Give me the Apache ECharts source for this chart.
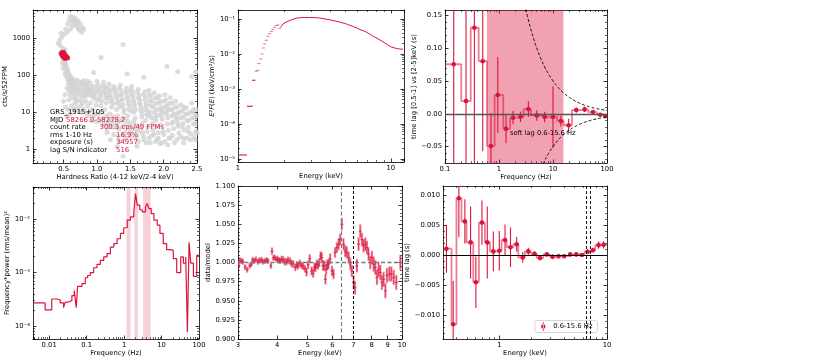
<!DOCTYPE html>
<html><head><meta charset="utf-8">
<script src="https://cdn.jsdelivr.net/npm/echarts@6/dist/echarts.min.js"></script>
<style>html,body{margin:0;padding:0;background:#fff}#c{width:830px;height:361px}</style>
</head><body><div id="c"></div>
<script>
// ---------------- DATA ----------------
// Panel 1: hardness-intensity diagram [hardness ratio, cts/s/52FPM]
const hidGrey = [
 [0.6,4000],[0.58,3200],[0.62,3000],[0.65,2700],[0.68,2400],[0.7,2100],[0.72,1900],[0.66,3300],[0.63,2200],[0.56,2500],[0.74,1700],[0.6,1800],[0.55,1500],[0.5,1300],[0.47,1100],[0.44,900],[0.42,750],[0.45,650],[0.48,550],[0.5,450],[0.52,500],[0.46,1400],[0.53,1800],
 [0.75,2500],[0.78,2000],[0.8,1800],[0.7,2800],[0.77,1500],[0.72,3000],[0.68,3500],[0.64,3800],
 [0.5,260],[0.52,230],[0.53,200],[0.54,175],[0.55,150],[0.56,130],[0.57,115],[0.58,105],[0.6,95],[0.62,85],[0.64,78],[0.66,70],[0.51,190],[0.53,140],[0.55,120],[0.58,85],[0.48,220],[0.49,160],[0.52,110],
 [0.52,30],[0.5,20],[0.53,14],[0.55,8],
 [0.54,95],[0.56,80],[0.57,60],[0.55,45],[0.58,38],[0.6,70],[0.62,55],[0.6,30],[0.63,42],[0.65,60],[0.66,35],[0.64,25],[0.68,48],[0.7,40],[0.69,28],[0.67,18],[0.62,15],[0.58,22],[0.56,12],[0.6,9],[0.65,12],[0.7,20],[0.72,55],[0.74,45],[0.73,30],[0.75,22],[0.76,15],[0.72,11],
 [0.66,50],[0.68,65],[0.7,75],[0.72,40],[0.74,62],[0.76,35],[0.78,28],[0.8,72],[0.82,62],[0.84,46],[0.86,38],[0.7,14],[0.75,10],[0.8,12],[0.85,9],[0.9,11],[0.78,18],[0.68,22],[0.64,35],[0.62,45],[0.6,52],[0.58,65],[0.56,100],
 [0.78,60],[0.8,50],[0.82,40],[0.84,55],[0.85,32],[0.8,26],[0.83,20],[0.86,15],[0.88,45],[0.9,38],[0.92,28],[0.9,18],[0.94,12],[0.96,50],[0.98,35],[0.95,24],[0.99,16],[0.97,9],[0.88,8],[0.93,6],[1.0,70],[0.86,70],[0.9,62],
 [0.76,65],[0.79,42],[0.81,33],[0.83,28],[0.87,52],[0.89,30],[0.91,48],[0.93,40],[0.95,33],[0.97,27],[0.99,22],[1.01,45],[1.03,35],[1.05,27],[1.07,20],[1.09,52],[1.11,40],[1.13,31],[1.15,24],[1.16,45],[1.18,36],[1.2,28],[1.22,22],[1.24,17],
 [1.02,55],[1.04,42],[1.05,30],[1.03,22],[1.06,15],[1.08,10],[1.1,65],[1.12,48],[1.1,35],[1.13,25],[1.14,18],[1.12,12],[1.15,8],[1.17,5],[1.18,58],[1.2,40],[1.19,28],[1.21,20],[1.22,14],[1.2,9],[1.23,6],[1.24,4],[1.25,50],[1.05,6],[1.09,4.5],[1.15,3.5],
 [1.26,42],[1.28,33],[1.3,25],[1.32,19],[1.34,14],[1.33,45],[1.35,30],[1.37,22],[1.39,16],[1.41,12],[1.43,36],[1.45,26],[1.47,20],[1.49,15],[1.51,11],
 [1.27,35],[1.28,26],[1.3,18],[1.29,12],[1.31,8],[1.32,5.5],[1.33,3.5],[1.35,55],[1.36,40],[1.37,30],[1.38,22],[1.36,15],[1.4,10],[1.39,7],[1.41,4.5],[1.42,2.8],[1.44,45],[1.45,33],[1.46,24],[1.47,17],[1.48,12],[1.46,8],[1.49,5],[1.5,3],[1.43,2],[1.39,0.64],[1.3,1.2],[1.34,1.6],
 [1.5,40],[1.52,30],[1.54,22],[1.56,17],[1.58,12],[1.6,35],[1.62,25],[1.64,18],[1.66,13],[1.68,9],[1.7,30],[1.72,22],[1.74,15],[1.76,11],[1.78,8],
 [1.52,50],[1.53,38],[1.54,28],[1.55,20],[1.56,14],[1.55,10],[1.57,7],[1.58,4.5],[1.6,3],[1.58,2],[1.62,42],[1.63,30],[1.64,22],[1.65,16],[1.66,11],[1.67,7.5],[1.68,5],[1.66,3.2],[1.7,2.2],[1.72,36],[1.73,26],[1.74,18],[1.72,12],[1.75,8.5],[1.73,6],[1.76,4],[1.74,1.5],[1.6,1.2],
 [1.8,28],[1.82,20],[1.84,14],[1.86,10],[1.88,7.5],[1.9,25],[1.92,18],[1.94,12],[1.96,8],[1.98,11],
 [1.78,40],[1.79,30],[1.8,21],[1.81,15],[1.8,10],[1.82,7],[1.83,5],[1.84,3.3],[1.82,2.3],[1.86,34],[1.87,25],[1.88,17],[1.89,12],[1.9,8.5],[1.88,6],[1.91,4],[1.92,2.8],[1.9,1.8],[1.94,28],[1.95,20],[1.96,14],[1.97,9.5],[1.98,6.5],[1.96,4.5],[1.99,3],[1.97,1.5],
 [2.0,20],[2.02,14],[2.04,9],[2.06,12],[2.08,17],[2.1,12],[2.12,5],[2.15,9],[2.17,14],[2.19,7.5],[2.21,5],[2.24,10],[2.26,7],[2.28,4],[2.3,14],[2.33,9],[2.35,6],[2.37,3],[2.4,10],[2.43,7],[2.45,12],[2.47,5],[2.49,8],
 [2.02,30],[2.03,22],[2.05,15],[2.04,10],[2.06,7],[2.05,4.8],[2.07,3.2],[2.08,2],[2.1,25],[2.12,18],[2.13,12],[2.12,8],[2.14,5.5],[2.15,3.6],[2.13,2.4],[2.18,20],[2.2,14],[2.21,9.5],[2.2,6.5],[2.22,4.2],[2.23,2.8],[2.26,16],[2.28,11],[2.3,7.5],[2.29,5],[2.31,3.3],[2.3,2],[2.34,13],[2.36,9],[2.38,6],[2.37,4],[2.4,2.6],[2.42,18],[2.44,10],[2.46,7],[2.45,4.8],[2.48,3],[2.47,1.8],[2.49,12],
 [0.95,8],[1.0,5.5],[1.02,9],[1.1,7],[1.12,5],[1.18,6.5],[1.2,4.5],[1.25,7.5],[1.27,5],[1.3,4],[1.35,6],[1.38,4],[1.4,2.5],[1.45,6],[1.48,3.8],[1.5,2.2],[1.55,5.5],[1.57,3.5],[1.6,2.3],[1.62,1.6],[1.65,4],[1.68,2.8],[1.7,1.8],[1.75,3],[1.78,2],[1.8,1.5],[1.85,2.5],[1.88,1.6],[1.92,2],[1.95,1.4],[2.0,2.5],[2.02,1.6],[2.06,1.3],[2.1,2],[2.16,1.5],[2.2,1.8],[2.25,2.2],[2.3,1.5],[2.35,2],[2.4,1.8],[2.45,2.2],[2.5,2.8],[1.25,2.5],[1.15,2.8],[1.2,1.8],[1.32,2.2],
 [1.06,306],[1.39,690],[2.05,175],[2.21,127],[2.48,127],[2.42,94],[1.45,110],[1.7,90],[0.95,120]
];
const hidRed = [[0.47,420],[0.48,380],[0.49,400],[0.5,360],[0.51,340],[0.52,320],[0.53,300],[0.5,310],[0.49,350],[0.51,390],[0.54,330],[0.55,310],[0.48,340],[0.52,290],[0.46,390],[0.5,430],[0.53,350],[0.56,300]];
const infoLabels = ['GRS_1915+105','MJD','count rate','rms 1-10 Hz','exposure (s)','lag S/N indicator'];
const infoValues = ['','58266.0-58278.2','300.3 cps/49 FPMs','16.9%','34957','516'];

// Panel 2: unfolded spectrum E^2 F(E)
const specBinLo = [1.0, 1.145, 1.235];
const specBinHi = [1.145, 1.25, 1.30];
const specBinVal = [1.3e-5, 3.2e-4, 1.77e-3];
const specE = [1.318,1.35,1.37,1.407,1.435,1.465,1.494,1.533,1.571,1.61,1.651,1.693,1.737,1.781,1.826,1.873,1.9,1.97,2.07,2.18,2.29,2.40,2.53,2.73,2.94,3.17,3.42,3.7,4.0,4.4,4.8,5.2,5.6,6.0,6.4,6.7,7.0,7.5,8.0,8.5,9.0,9.5,10.0,10.5,11.0,11.5,12.0];
const specVal = [3.2e-3,3.4e-3,5.3e-3,7.2e-3,1.0e-2,1.48e-2,1.93e-2,2.45e-2,3.2e-2,3.8e-2,4.4e-2,5.07e-2,5.8e-2,6.45e-2,6.76e-2,5.4e-2,5.8e-2,7.2e-2,8.2e-2,9.0e-2,9.8e-2,1.05e-1,1.08e-1,1.1e-1,1.1e-1,1.09e-1,1.06e-1,1.0e-1,9.4e-2,8.6e-2,7.8e-2,7.0e-2,6.2e-2,5.5e-2,4.8e-2,4.5e-2,4.1e-2,3.4e-2,2.9e-2,2.5e-2,2.15e-2,1.85e-2,1.6e-2,1.5e-2,1.42e-2,1.38e-2,1.37e-2];

// Panel 3: lag-frequency spectrum
const lfLo  = [0.1,0.2,0.3,0.42,0.6,0.83,1.2,1.6,2.15,2.86,3.9,5.4,8.3,11.9,15.7,22.5,32,45,65,87];
const lfHi  = [0.2,0.3,0.42,0.6,0.83,1.2,1.6,2.15,2.86,3.9,5.4,8.3,11.9,15.7,22.5,32,45,65,87,100];
const lfMid = [0.145,0.245,0.35,0.5,0.71,0.95,1.35,1.82,2.5,3.5,5,7,10,14,19.5,27,38.5,55,75,93];
const lfLag = [0.0754,0.0193,0.131,0.080,-0.049,0.0285,-0.023,-0.006,-0.0046,0.0071,-0.0025,-0.005,-0.005,-0.011,-0.0175,0.0056,0.0066,0.0026,-0.0015,-0.0035];
const lfErr = [0.3,0.3,0.3,0.137,0.05,0.058,0.022,0.01,0.008,0.012,0.008,0.008,0.047,0.008,0.01,0.004,0.004,0.002,0.002,0.002];
const softBand = [0.6, 15.6];
const limitUpF = [3.0,3.2,3.5,4,4.5,5,6,7,8,10,12,15,20,25,30,40,50,60,80,100];
const limitUpV = [0.1667,0.156,0.143,0.125,0.111,0.1,0.0833,0.0714,0.0625,0.05,0.0417,0.0333,0.025,0.02,0.0167,0.0125,0.01,0.0083,0.0063,0.005];
const limitLoF = [6.5,7,8,10,12,15,20,25,30,40,50,60,80,100];
const limitLoV = [-0.0769,-0.0714,-0.0625,-0.05,-0.0417,-0.0333,-0.025,-0.02,-0.0167,-0.0125,-0.01,-0.0083,-0.0063,-0.005];

// Panel 4: power density spectrum (frequency*power)
const psdEdges = [0.0038,0.0078,0.0117,0.016,0.0197,0.0242,0.0268,0.0329,0.0404,0.0467,0.0528,0.0574,0.075,0.092,0.106,0.125,0.154,0.189,0.232,0.286,0.351,0.431,0.53,0.65,0.80,0.98,1.21,1.48,1.82,2.02,2.24,2.63,3.04,3.74,4.14,4.59,5.3,6.25,7.69,9.06,11.1,13.7,16.8,20.6,25.4,32.5,38.3,44.2,49,54.3,60.2,70.9,87,100];
const psdVal = [2.7e-4,2.0e-4,3.2e-4,3.1e-4,2.7e-4,2.2e-4,2.8e-4,3.0e-4,3.7e-4,4.6e-4,2.2e-4,5.5e-4,6.2e-4,8e-4,8.8e-4,1.0e-3,1.23e-3,1.42e-3,1.69e-3,1.96e-3,2.26e-3,3.0e-3,3.48e-3,4.3e-3,5.4e-3,6.9e-3,9.6e-3,1.1e-2,1.37e-2,3.0e-2,1.83e-2,1.5e-2,1.37e-2,1.7e-2,1.97e-2,1.58e-2,1.27e-2,9.6e-3,7.7e-3,5.4e-3,3.48e-3,2.68e-3,2.6e-3,1.82e-3,1.0e-3,1.96e-3,1.5e-3,1.96e-3,7.6e-5,3.7e-3,1.5e-3,8.5e-4,2.1e-3];
const qpoBandLo = [1.16, 1.9, 3.23];
const qpoBandHi = [1.48, 2.33, 5.1];

// Panel 5: data/model ratio
const ratioE = [3.02,3.04,3.08,3.11,3.16,3.21,3.27,3.31,3.34,3.38,3.42,3.47,3.51,3.56,3.60,3.65,3.70,3.74,3.82,3.85,3.89,3.93,3.97,4.01,4.05,4.08,4.13,4.18,4.23,4.28,4.33,4.39,4.44,4.50,4.57,4.62,4.66,4.72,4.78,4.84,4.90,4.96,5.02,5.08,5.15,5.21,5.26,5.30,5.35,5.40,5.45,5.50,5.55,5.60,5.65,5.70,5.73,5.78,5.83,5.90,5.98,6.05,6.12,6.20,6.28,6.35,6.43,6.51,6.59,6.67,6.76,6.84,6.92,7.01,7.08,7.18,7.27,7.36,7.45,7.54,7.64,7.73,7.82,7.92,8.02,8.12,8.22,8.32,8.42,8.53,8.63,8.74,8.85,8.95,9.11,9.25,9.41,9.59,9.88];
const ratioVal = [0.996,1.003,1.002,1.001,0.994,0.9905,0.9957,0.998,1.0035,1.002,1.004,1.001,1.003,1.0035,1.001,1.002,1.003,1.002,0.9957,1.0148,1.006,1.0065,1.004,1.005,1.003,1.002,1.004,1.0035,1.001,1.001,1.003,1.002,0.999,0.998,0.9935,0.997,0.9957,0.999,0.9965,0.995,0.992,0.9875,0.997,1.005,0.989,0.986,0.994,0.9935,0.998,0.9965,1.0,1.0087,1.0065,0.996,0.9957,0.978,0.991,0.997,0.998,1.005,0.989,0.985,1.013,1.0195,1.024,1.03,1.05,1.024,1.015,1.013,1.0065,0.998,0.989,0.974,0.967,0.9957,1.024,1.041,1.03,1.022,1.024,1.0195,1.011,1.0,1.0065,0.998,0.9935,0.9805,0.991,0.987,0.974,0.978,0.963,0.983,0.985,0.985,0.9805,0.974,1.0];
const ratioErr = [0.004,0.004,0.004,0.004,0.004,0.004,0.004,0.004,0.004,0.004,0.004,0.004,0.004,0.004,0.004,0.004,0.004,0.004,0.004,0.005,0.004,0.004,0.004,0.004,0.004,0.004,0.005,0.005,0.005,0.005,0.005,0.005,0.005,0.005,0.005,0.005,0.005,0.005,0.005,0.005,0.005,0.006,0.006,0.006,0.006,0.006,0.006,0.006,0.006,0.006,0.006,0.006,0.007,0.007,0.007,0.007,0.007,0.007,0.007,0.007,0.007,0.007,0.007,0.007,0.008,0.008,0.008,0.008,0.008,0.008,0.008,0.008,0.008,0.009,0.009,0.009,0.009,0.009,0.009,0.009,0.009,0.009,0.009,0.009,0.009,0.01,0.01,0.01,0.01,0.01,0.01,0.01,0.01,0.01,0.01,0.01,0.01,0.01,0.01];
const lineE = [6.4, 6.97];

// Panel 6: lag-energy spectrum
const leEdges = [0.3,0.36,0.40,0.445,0.496,0.573,0.646,0.735,0.819,0.924,1.05,1.17,1.35,1.50,1.73,1.97,2.23,2.57,2.96,3.30,3.81,4.24,4.89,5.53,6.19,6.99,7.78,8.67,10];
const leMid = [0.323,0.373,0.421,0.479,0.541,0.606,0.69,0.773,0.88,1.0,1.13,1.27,1.45,1.65,1.86,2.12,2.39,2.76,3.12,3.55,4.0,4.55,5.18,5.85,6.6,7.4,8.36,9.3];
const leLag = [0.00105,-0.01155,0.00945,0.0056,0.0021,-0.00453,0.0054,0.0021,0.0006,0.0007,0.0025,0.0013,0.0018,-0.0004,0.0006,0.0002,-0.0005,0.0001,-0.0003,-0.0002,-0.0002,0.0001,0.0001,0.0,0.00055,0.0008,0.00165,0.0017];
const leErr = [0.004,0.0072,0.0065,0.0037,0.006,0.0043,0.0037,0.006,0.0033,0.0033,0.0026,0.0033,0.0012,0.0009,0.0006,0.0004,0.0004,0.0003,0.0004,0.0004,0.0003,0.0003,0.0003,0.0003,0.0004,0.0004,0.0006,0.0006];
const leName = '0.6-15.6 Hz';

// ---------------- CHART ----------------
const RED = '#dc143c', RED_L = 'rgba(220,20,60,0.55)';
const FONT = 'DejaVu Sans', FS = 6.8;
const grids = [
  {left:33, top:10, width:164, height:153},
  {left:238, top:10, width:166, height:152},
  {left:445, top:10, width:162, height:153},
  {left:33, top:187, width:166, height:152},
  {left:238, top:186, width:164, height:153},
  {left:443, top:186, width:164, height:153}
];
const SUP = {'-':'⁻','0':'⁰','1':'¹','2':'²','3':'³','4':'⁴','5':'⁵','6':'⁶','7':'⁷','8':'⁸','9':'⁹'};
const pow10 = v => '10' + String(Math.round(Math.log10(v))).split('').map(c => SUP[c]).join('');
const fixed = n => v => { const s = Number(v).toFixed(n); return s.replace('-', '−'); };
const intFmt = v => String(Math.round(v));

function axes(dim, gi, c) {
  const tick = {show:true, inside:true, length:3.5, lineStyle:{color:'#000', width:0.8}};
  if (c.ticks) tick.customValues = c.ticks;
  const base = {
    gridIndex: gi, type: c.type, min: c.min, max: c.max, splitLine:{show:false},
    axisLine:{show:true, onZero:false, lineStyle:{color:'#000', width:0.8}},
    axisTick: tick,
    minorTick:{show: !!c.minor, splitNumber: c.minor || 5, length:2, lineStyle:{color:'#000', width:0.6}}
  };
  if (c.type === 'log') base.logBase = 10;
  if (c.interval) base.interval = c.interval;
  const lab = {show:true, fontFamily:FONT, fontSize:FS, color:'#000', margin: dim === 'x' ? 2.5 : 3, formatter: c.fmt};
  if (c.ticks) lab.customValues = c.ticks;
  if (c.hideMin) lab.showMinLabel = false;
  if (c.hideMax) lab.showMaxLabel = false;
  const main = Object.assign({}, base, {
    position: dim === 'x' ? 'bottom' : 'left',
    name: c.name, nameLocation:'middle', nameGap: c.gap,
    nameTextStyle: Object.assign({fontFamily:FONT, fontSize:FS, color:'#000'}, c.nameStyle || {}),
    axisLabel: lab
  });
  const mirror = Object.assign({}, base, {position: dim === 'x' ? 'top' : 'right', axisLabel:{show:false}});
  return [main, mirror];
}

const xAxis = [].concat(
  axes('x', 0, {type:'value', min:0.04, max:2.5, ticks:[0.5,1,1.5,2,2.5], fmt: fixed(1), minor:5, name:'Hardness Ratio (4-12 keV/2-4 keV)', gap:10.5}),
  axes('x', 1, {type:'log', min:1, max:12.2, fmt:intFmt, hideMax:true, minor:9, name:'Energy (keV)', gap:11}),
  axes('x', 2, {type:'log', min:0.1, max:100, fmt: v => v < 1 ? '0.1' : intFmt(v), minor:9, name:'Frequency (Hz)', gap:10}),
  axes('x', 3, {type:'log', min:0.0037, max:100, fmt: v => v >= 1 ? intFmt(v) : String(+Number(v).toPrecision(1)), hideMin:true, minor:9, name:'Frequency (Hz)', gap:10}),
  axes('x', 4, {type:'log', min:3, max:10, ticks:[3,4,5,6,7,8,9,10], fmt:intFmt, name:'Energy (keV)', gap:9.5}),
  axes('x', 5, {type:'log', min:0.3, max:10, fmt:intFmt, hideMin:true, minor:9, name:'Energy (keV)', gap:10})
);
const yAxis = [].concat(
  axes('y', 0, {type:'log', min:0.42, max:6000, fmt:intFmt, hideMin:true, hideMax:true, minor:9, name:'cts/s/52FPM', gap:19.5}),
  axes('y', 1, {type:'log', min:8.2e-6, max:0.18, fmt:pow10, hideMin:true, hideMax:true, minor:9,
     name:'{i|E}²{i|F}({i|E}) (keV/cm²/s)', gap:21.5, nameStyle:{rich:{i:{fontStyle:'italic', fontFamily:FONT, fontSize:FS}}}}),
  axes('y', 2, {type:'value', min:-0.075, max:0.158, ticks:[-0.05,0,0.05,0.1,0.15], fmt:fixed(2), minor:5, name:'time lag [0.5-1] vs [2-5]keV (s)', gap:27.5}),
  axes('y', 3, {type:'log', min:5.7e-5, max:0.04, fmt:pow10, hideMin:true, hideMax:true, minor:9, name:'Frequency*power (rms/mean)²', gap:22.5}),
  axes('y', 4, {type:'value', min:0.9, max:1.1, interval:0.025, fmt:fixed(3), minor:5, name:'data/model', gap:24.5}),
  axes('y', 5, {type:'value', min:-0.014, max:0.0115, ticks:[-0.01,-0.005,0,0.005,0.01], fmt:fixed(3), minor:5, name:'time lag (s)', gap:28.5})
);

const steps = (edges, vals) => { const d = []; vals.forEach((v, i) => { d.push([edges[i], v], [edges[i + 1], v]); }); return d; };
const stepsLoHi = (lo, hi, vals) => { const d = []; vals.forEach((v, i) => { d.push([lo[i], v], [hi[i], v]); }); return d; };

function errRender(color, r, lw) {
  return function (params, api) {
    const x = api.value(0), y = api.value(1), e = api.value(2);
    const p = api.coord([x, y]), a = api.coord([x, y + e]), b = api.coord([x, y - e]);
    return {type:'group', children:[
      {type:'line', shape:{x1:p[0], y1:a[1], x2:p[0], y2:b[1]}, style:{stroke:color, lineWidth:lw}},
      {type:'circle', shape:{cx:p[0], cy:p[1], r:r}, style:{fill:color}}
    ]};
  };
}
function ratioRender(params, api) {
  const x = api.value(0), y = api.value(1), e = api.value(2);
  const p = api.coord([x, y]), a = api.coord([x, y + e]), b = api.coord([x, y - e]);
  return {type:'group', children:[
    {type:'line', shape:{x1:p[0], y1:a[1], x2:p[0], y2:b[1]}, style:{stroke:'rgba(220,20,60,0.45)', lineWidth:2.2}},
    {type:'line', shape:{x1:p[0], y1:a[1] + 1, x2:p[0], y2:b[1] - 1}, style:{stroke:RED, lineWidth:0.7}},
    {type:'line', shape:{x1:p[0] - 1.5, y1:p[1], x2:p[0] + 1.5, y2:p[1]}, style:{stroke:RED, lineWidth:0.8}}
  ]};
}
function binRender(params, api) {
  const a = api.coord([api.value(0), api.value(2)]), b = api.coord([api.value(1), api.value(2)]);
  return {type:'line', shape:{x1:a[0], y1:a[1], x2:b[0], y2:b[1]}, style:{stroke:RED, lineWidth:1.1}};
}
function dashRender(params, api) {
  const p = api.coord([api.value(0), api.value(1)]);
  return {type:'line', shape:{x1:p[0] - 1.5, y1:p[1], x2:p[0] + 1.5, y2:p[1]}, style:{stroke:'rgba(220,20,60,0.6)', lineWidth:1}};
}

const specSplit = 16; // first points drawn as isolated bins, the rest as a continuous line
const series = [
  // Panel 1
  {type:'scatter', xAxisIndex:0, yAxisIndex:0, data:hidGrey, symbolSize:5, itemStyle:{color:'#d3d3d3'}, silent:true},
  {type:'scatter', xAxisIndex:0, yAxisIndex:0, data:hidRed, symbolSize:5, itemStyle:{color:RED}, silent:true},
  // Panel 2
  {type:'custom', xAxisIndex:2, yAxisIndex:2, clip:true, silent:true, renderItem:binRender,
   data: specBinVal.map((v, i) => [specBinLo[i], specBinHi[i], v])},
  {type:'custom', xAxisIndex:2, yAxisIndex:2, clip:true, silent:true, renderItem:dashRender,
   data: specE.slice(0, specSplit).map((e, i) => [e, specVal[i]])},
  {type:'line', xAxisIndex:2, yAxisIndex:2, symbol:'none', silent:true, lineStyle:{color:RED, width:1},
   data: specE.slice(specSplit).map((e, i) => [e, specVal[i + specSplit]])},
  // Panel 3
  {type:'line', xAxisIndex:4, yAxisIndex:4, symbol:'none', silent:true, lineStyle:{color:RED_L, width:1.8},
   data: stepsLoHi(lfLo, lfHi, lfLag),
   markArea:{silent:true, itemStyle:{color:'rgba(220,20,60,0.4)'}, data:[[{xAxis:softBand[0]}, {xAxis:softBand[1]}]]},
   markLine:{silent:true, symbol:['none','none'], label:{show:false}, lineStyle:{color:'#555', width:1.3, type:'solid'}, data:[{yAxis:0}]}},
  {type:'custom', xAxisIndex:4, yAxisIndex:4, clip:true, silent:true, renderItem:errRender(RED, 2.3, 1.1),
   data: lfMid.map((f, i) => [f, lfLag[i], lfErr[i]])},
  {type:'line', xAxisIndex:4, yAxisIndex:4, symbol:'none', silent:true, smooth:true, lineStyle:{color:'#000', width:0.9, type:[3,2]},
   data: limitUpF.map((f, i) => [f, limitUpV[i]])},
  {type:'line', xAxisIndex:4, yAxisIndex:4, symbol:'none', silent:true, smooth:true, lineStyle:{color:'#000', width:0.9, type:[3,2]},
   data: limitLoF.map((f, i) => [f, limitLoV[i]])},
  // Panel 4
  {type:'line', xAxisIndex:6, yAxisIndex:6, symbol:'none', silent:true, lineStyle:{color:RED, width:1.2},
   data: steps(psdEdges, psdVal),
   markArea:{silent:true, itemStyle:{color:'rgba(220,20,60,0.2)'}, data: qpoBandLo.map((lo, i) => [{xAxis:lo}, {xAxis:qpoBandHi[i]}])}},
  // Panel 5
  {type:'custom', xAxisIndex:8, yAxisIndex:8, clip:true, silent:true, renderItem:ratioRender,
   data: ratioE.map((e, i) => [e, ratioVal[i], ratioErr[i]]),
   markLine:{silent:true, symbol:['none','none'], label:{show:false}, data:[
     {yAxis:1, lineStyle:{color:'#777', width:1.3, type:[4,2.5]}},
     {xAxis:lineE[0], lineStyle:{color:'#777', width:1.1, type:[4,2.5]}},
     {xAxis:lineE[1], lineStyle:{color:'#000', width:1.0, type:[3,2]}}]}},
  // Panel 6
  {type:'line', xAxisIndex:10, yAxisIndex:10, symbol:'none', silent:true, lineStyle:{color:RED_L, width:1.8},
   data: steps(leEdges, leLag),
   markLine:{silent:true, symbol:['none','none'], label:{show:false}, data:[
     {yAxis:0, lineStyle:{color:'#000', width:1.2, type:'solid'}},
     {xAxis:lineE[0], lineStyle:{color:'#000', width:0.9, type:[3,2]}},
     {xAxis:lineE[1], lineStyle:{color:'#000', width:0.9, type:[3,2]}}]}},
  {type:'custom', name:leName, xAxisIndex:10, yAxisIndex:10, clip:true, silent:true, itemStyle:{color:RED},
   renderItem:errRender(RED, 2.3, 1.1), data: leMid.map((e, i) => [e, leLag[i], leErr[i]])}
];

const graphic = [];
infoLabels.forEach((t, i) => {
  const y = 112.5 + i * 7.5;
  graphic.push({type:'text', x:50, y:y, silent:true, z:100, style:{text:t, fill:'#000', fontFamily:FONT, fontSize:6.9, verticalAlign:'middle'}});
});
const valX = [0, 66, 99.5, 116, 116, 116];
infoValues.forEach((t, i) => {
  if (!t) return;
  graphic.push({type:'text', x:valX[i], y:112.5 + i * 7.5, silent:true, z:100, style:{text:t, fill:RED, fontFamily:FONT, fontSize:6.9, verticalAlign:'middle'}});
});
graphic.push({type:'text', x:510, y:133, silent:true, z:100, style:{text:'soft lag 0.6-15.6 Hz', fill:'#000', fontFamily:FONT, fontSize:6.7, verticalAlign:'middle'}});

const chart = echarts.init(document.getElementById('c'), null, {renderer:'canvas'});
chart.setOption({
  animation:false,
  backgroundColor:'#fff',
  grid: grids,
  xAxis: xAxis,
  yAxis: yAxis,
  series: series,
  graphic: graphic,
  legend: {
    show:true, left:535, top:320.5, orient:'horizontal',
    padding:[1.5,5,1.5,6], itemWidth:6, itemHeight:9, itemGap:4,
    borderColor:'#cccccc', borderWidth:0.8, borderRadius:2, backgroundColor:'#fff',
    textStyle:{fontFamily:FONT, fontSize:FS, color:'#000', padding:[0,0,0,2]},
    data:[{name:leName, icon:'path://M2.6,0h0.8v10h-0.8z M0.5,5a2.5,2.5 0 1,0 5,0a2.5,2.5 0 1,0 -5,0z', itemStyle:{color:RED}}]
  }
});
</script>
</body></html>
